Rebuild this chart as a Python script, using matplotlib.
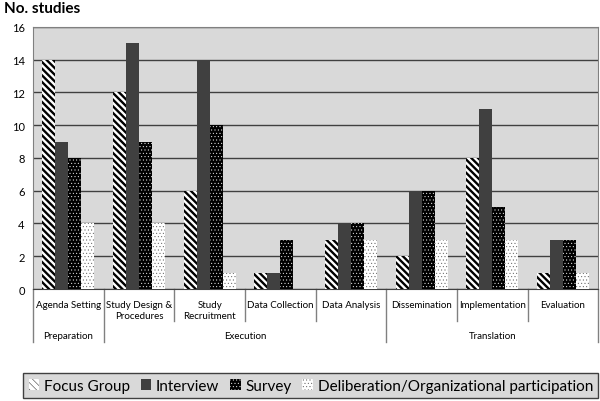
import numpy as np
import matplotlib.pyplot as plt
from matplotlib.transforms import blended_transform_factory

plt.rcParams['font.family'] = ['Lato', 'DejaVu Sans']

categories = ['Agenda Setting', 'Study Design &\nProcedures', 'Study\nRecruitment',
              'Data Collection', 'Data Analysis', 'Dissemination',
              'Implementation', 'Evaluation']
groups = ['Preparation', 'Execution', 'Translation']
group_spans = [(0, 0), (1, 4), (5, 7)]

focus_group = [14, 12, 6, 1, 3, 2, 8, 1]
interview = [9, 15, 14, 1, 4, 6, 11, 3]
survey = [8, 9, 10, 3, 4, 6, 5, 3]
deliberation = [4, 4, 1, 0, 3, 3, 3, 1]

series = [
    ('Focus Group', focus_group, dict(color='white', edgecolor='black', hatch='\\' * 5), 1.7),
    ('Interview', interview, dict(color='#404040', edgecolor='#404040'), 1.0),
    ('Survey', survey, dict(color='black', edgecolor='white', hatch='.....'), 0.3),
    ('Deliberation/Organizational participation', deliberation,
     dict(color='white', edgecolor='#555555', hatch='.....'), 0.3),
]

fig = plt.figure(figsize=(6, 4.02), dpi=100)
ax = fig.add_axes([0.055, 0.2786, 0.942, 0.652])
ax.set_facecolor('#d9d9d9')

x = np.arange(len(categories))
w = 0.184
for i, (name, vals, style, hlw) in enumerate(series):
    plt.rcParams['hatch.linewidth'] = hlw
    ax.bar(x + (i - 1.5) * w, vals, w, label=name, linewidth=0, zorder=3, **style)

ax.set_xlim(-0.5, 7.5)
ax.set_ylim(0, 16)
ax.set_yticks(range(0, 17, 2))
ax.yaxis.grid(True, color='#404040', linewidth=1.0, zorder=1)
ax.set_axisbelow(True)
ax.tick_params(axis='y', length=0, labelsize=8, pad=6)
ax.set_xticks(x)
ax.set_xticklabels(categories, fontsize=7, linespacing=1.25)
ax.tick_params(axis='x', length=0, pad=8)
for side in ['top', 'right', 'left']:
    ax.spines[side].set_color('#808080')
ax.spines['bottom'].set_color('#404040')

# hierarchical axis dividers
tr = blended_transform_factory(ax.transData, ax.transAxes)
group_edges = {-0.5, 0.5, 4.5, 7.5}
for b in np.arange(-0.5, 8.0, 1.0):
    low = -0.203 if b in group_edges else -0.123
    ax.plot([b, b], [0, low], transform=tr, color='#808080', lw=1, clip_on=False)
for g, (a, b) in zip(groups, group_spans):
    ax.text((a + b) / 2, -0.178, g, transform=tr, ha='center', va='center', fontsize=7)

fig.text(0.006, 0.978, 'No. studies', fontsize=11, fontweight='bold', va='center')

leg = fig.legend(loc='center', bbox_to_anchor=(0.518, 0.038), ncol=4, fontsize=11,
                 frameon=True, fancybox=False, handlelength=0.7, handleheight=0.7,
                 handletextpad=0.3, columnspacing=0.7, borderpad=0.35)
leg.get_frame().set_facecolor('#d9d9d9')
leg.get_frame().set_edgecolor('#404040')
leg.get_frame().set_alpha(1)

fig.savefig('out.png', dpi=100)
